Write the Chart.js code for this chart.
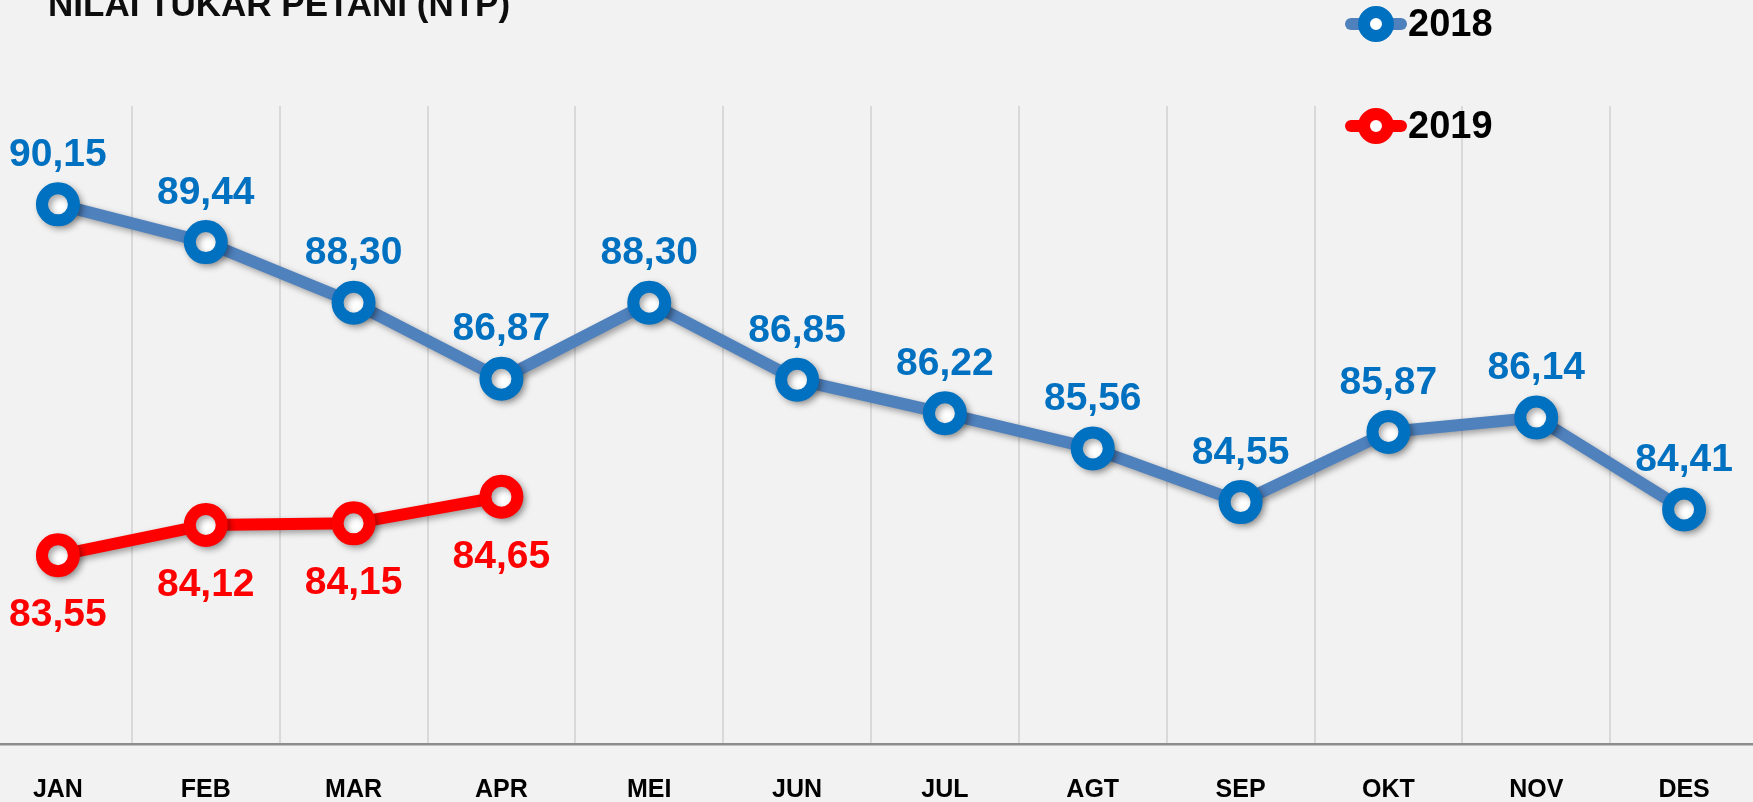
<!DOCTYPE html>
<html>
<head>
<meta charset="utf-8">
<script src="https://cdn.jsdelivr.net/npm/chart.js@4.4.1/dist/chart.umd.min.js"></script>
<style>
    html, body { margin: 0; padding: 0; background: #f2f2f2; overflow: hidden; }
    body { width: 1753px; height: 802px; position: relative; }
    #ntpChart { position: absolute; left: -16px; top: 0; }
</style>
</head>
<body>
<canvas id="ntpChart" width="1774" height="802"></canvas>
<script>
const months = ['JAN', 'FEB', 'MAR', 'APR', 'MEI', 'JUN', 'JUL', 'AGT', 'SEP', 'OKT', 'NOV', 'DES'];
const ntp2018 = [90.15, 89.44, 88.30, 86.87, 88.30, 86.85, 86.22, 85.56, 84.55, 85.87, 86.14, 84.41];
const ntp2019 = [83.55, 84.12, 84.15, 84.65];
const seriesNames = ['2018', '2019'];
const chartTitle = 'NILAI TUKAR PETANI (NTP)';

const FONT = '"Liberation Sans", Arial, sans-serif';

// point labels: 2018 above the points, 2019 below
const valueLabels = {
    id: 'valueLabels',
    afterDatasetsDraw(chart) {
        const ctx = chart.ctx;
        ctx.save();
        ctx.font = 'bold 39px ' + FONT;
        ctx.textAlign = 'center';
        ctx.textBaseline = 'middle';
        chart.data.datasets.forEach((ds, i) => {
            const meta = chart.getDatasetMeta(i);
            const shift = i === 0 ? -49 : 60;
            ctx.fillStyle = ds.labelColor;
            meta.data.forEach((pt, j) => {
                const txt = ds.data[j].toFixed(2).replace('.', ',');
                ctx.fillText(txt, pt.x, pt.y + shift);
            });
        });
        ctx.restore();
    }
};

// soft drop shadow under the lines
const lineShadow = {
    id: 'lineShadow',
    beforeDatasetsDraw(chart) {
        const ctx = chart.ctx;
        ctx.save();
        ctx.shadowColor = 'rgba(0,0,0,0.35)';
        ctx.shadowBlur = 6;
        ctx.shadowOffsetX = 3;
        ctx.shadowOffsetY = 3;
    },
    afterDatasetsDraw(chart) {
        chart.ctx.restore();
    }
};

// title (cut off at the top) and stacked legend at the top right
const titleAndLegend = {
    id: 'titleAndLegend',
    afterDraw(chart) {
        const ctx = chart.ctx;
        ctx.save();
        ctx.fillStyle = '#0d0d0d';
        ctx.font = 'bold 35px ' + FONT;
        ctx.textAlign = 'left';
        ctx.textBaseline = 'alphabetic';
        ctx.fillText(chartTitle, 64, 16);

        const rows = [24, 126];
        chart.data.datasets.forEach((ds, i) => {
            const y = rows[i];
            ctx.lineCap = 'round';
            ctx.strokeStyle = ds.borderColor;
            ctx.lineWidth = 12;
            ctx.beginPath();
            ctx.moveTo(1367, y);
            ctx.lineTo(1417, y);
            ctx.stroke();
            ctx.beginPath();
            ctx.arc(1392, y, 12, 0, Math.PI * 2);
            ctx.fillStyle = '#ffffff';
            ctx.fill();
            ctx.strokeStyle = ds.pointBorderColor;
            ctx.stroke();
            ctx.fillStyle = '#000000';
            ctx.font = 'bold 38px ' + FONT;
            ctx.textBaseline = 'middle';
            ctx.fillText(ds.label, 1424, y + 2);
        });
        ctx.restore();
    }
};

const ctx = document.getElementById('ntpChart').getContext('2d');
const ntpChart = new Chart(ctx, {
    type: 'line',
    data: {
        labels: months,
        datasets: [{
            label: seriesNames[0],
            data: ntp2018,
            borderColor: '#4f81bd',
            borderWidth: 12,
            pointRadius: 16,
            pointHoverRadius: 16,
            pointBorderWidth: 12,
            pointBorderColor: '#0070c0',
            pointBackgroundColor: '#ffffff',
            labelColor: '#0070c0',
            tension: 0
        }, {
            label: seriesNames[1],
            data: ntp2019,
            borderColor: '#ff0000',
            borderWidth: 12,
            pointRadius: 16,
            pointHoverRadius: 16,
            pointBorderWidth: 12,
            pointBorderColor: '#ff0000',
            pointBackgroundColor: '#ffffff',
            labelColor: '#ff0000',
            tension: 0
        }]
    },
    options: {
        responsive: false,
        animation: false,
        devicePixelRatio: 1,
        layout: { autoPadding: false, padding: { top: 106, left: 0, right: 0, bottom: 0 } },
        plugins: {
            legend: { display: false },
            title: { display: false },
            tooltip: { enabled: false }
        },
        scales: {
            x: {
                offset: true,
                afterFit: (scale) => { scale.height = 58; },
                grid: {
                    offset: true,
                    color: '#d9d9d9',
                    lineWidth: 2,
                    drawTicks: false
                },
                border: { color: '#8c8c8c', width: 2.5 },
                ticks: {
                    color: '#000000',
                    padding: 31,
                    font: { family: FONT, size: 25, weight: 'bold' }
                }
            },
            y: {
                display: false,
                min: 80,
                max: 92
            }
        }
    },
    plugins: [lineShadow, valueLabels, titleAndLegend]
});
</script>
</body>
</html>
